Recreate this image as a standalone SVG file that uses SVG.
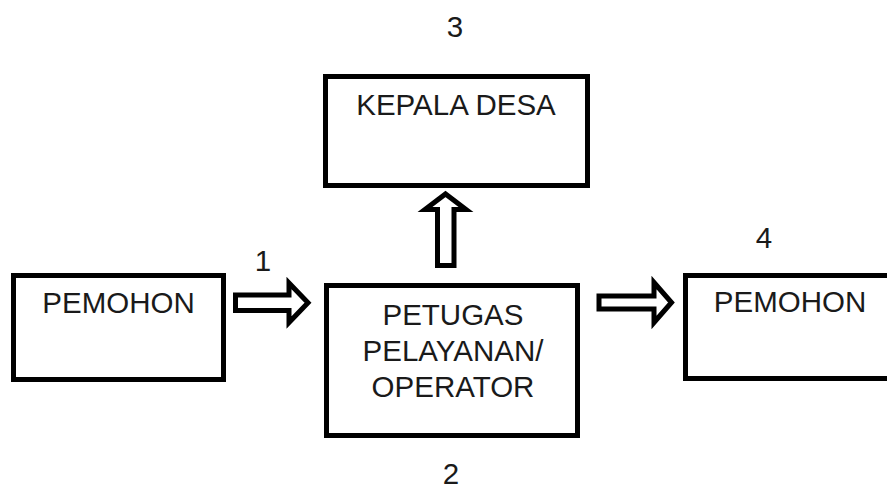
<svg xmlns="http://www.w3.org/2000/svg" width="887" height="491" viewBox="0 0 887 491">
<style>
.box{fill:#fff;stroke:#000;stroke-width:5}
.arr{fill:#fff;stroke:#000;stroke-width:5;stroke-linejoin:miter;stroke-miterlimit:10}
text{font-family:"Liberation Sans",Arial,sans-serif;font-size:29.5px;fill:#1a1a1a;text-anchor:middle}
</style>
<rect width="887" height="491" fill="#fff"/>
<g id="connectors">
<polygon class="arr" points="235.5,295 289,295 289,283 308,302.8 289,322.5 289,310.5 235.5,310.5"/>
<polygon class="arr" points="437.5,265.5 437.5,209.5 425,209.5 445.5,194 466,209.5 454,209.5 454,265.5"/>
<polygon class="arr" points="599,296 654,296 654,282.5 671.5,302.5 654,322.5 654,309 599,309"/>
<text x="263" y="271">1</text>
<text x="451" y="484">2</text>
<text x="455" y="37">3</text>
<text x="764" y="248">4</text>
</g>
<g id="pemohon1">
<rect class="box" x="13.5" y="275.5" width="210" height="104"/>
<text x="118.5" y="313">PEMOHON</text>
</g>
<g id="kepala-desa">
<rect class="box" x="325.5" y="76.5" width="262" height="109"/>
<text x="456" y="115">KEPALA DESA</text>
</g>
<g id="petugas">
<rect class="box" x="326.5" y="285.5" width="251" height="150"/>
<text x="453" y="325">PETUGAS</text>
<text x="453" y="360.5">PELAYANAN/</text>
<text x="453" y="396.5">OPERATOR</text>
</g>
<g id="pemohon2">
<rect class="box" x="685.5" y="275.5" width="300" height="103"/>
<text x="790" y="312">PEMOHON</text>
</g>
</svg>
